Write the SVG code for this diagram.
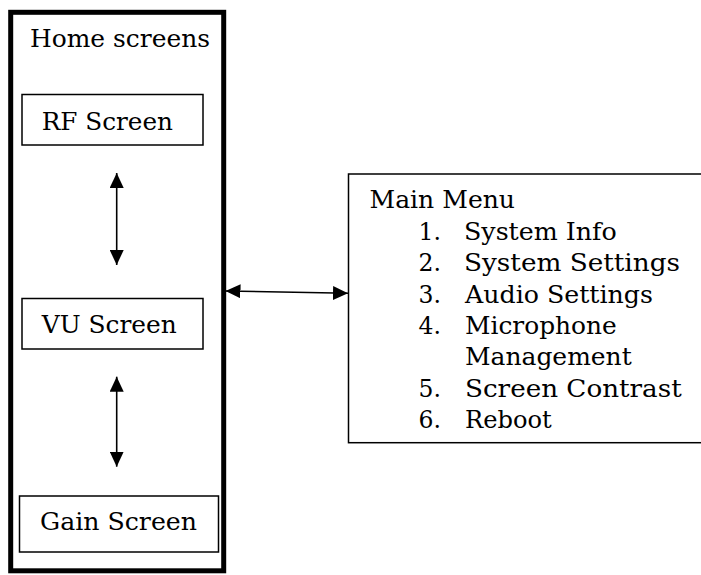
<svg xmlns="http://www.w3.org/2000/svg" width="701" height="575" viewBox="0 0 701 575">
<style>
text{font-family:"DejaVu Serif","Liberation Serif",serif;font-size:23.5px;fill:#000}
.box{fill:#fff;stroke:#000;stroke-width:1.5}
.con{stroke:#000;stroke-width:1.6;fill:none;marker-start:url(#ah);marker-end:url(#ah)}
</style>
<defs>
<marker id="ah" markerUnits="userSpaceOnUse" markerWidth="16" markerHeight="14" refX="15" refY="7" orient="auto-start-reverse" viewBox="0 0 16 14">
<path d="M0,0 L15,7 L0,14 z" fill="#000"/>
</marker>
</defs>
<rect width="701" height="575" fill="#fff"/>
<g id="home">
<rect x="10.7" y="12.3" width="213" height="558.5" fill="none" stroke="#000" stroke-width="5"/>
<text x="30" y="47" textLength="180" lengthAdjust="spacingAndGlyphs">Home screens</text>
</g>
<g id="rf">
<rect class="box" x="22" y="94.5" width="181" height="50.5"/>
<text x="41.7" y="129.5" textLength="131.3" lengthAdjust="spacingAndGlyphs">RF Screen</text>
</g>
<g id="vu">
<rect class="box" x="22" y="298.5" width="181" height="50.5"/>
<text x="41.7" y="333" textLength="135" lengthAdjust="spacingAndGlyphs">VU Screen</text>
</g>
<g id="gain">
<rect class="box" x="19.5" y="496" width="199" height="56"/>
<text x="40" y="530" textLength="157" lengthAdjust="spacingAndGlyphs">Gain Screen</text>
</g>
<g id="menu">
<rect class="box" x="348.5" y="174" width="370" height="268.7"/>
<text x="369.5" y="208" textLength="145.5" lengthAdjust="spacingAndGlyphs">Main Menu</text>
<text x="441" y="240" text-anchor="end">1.</text>
<text x="464" y="240" textLength="152.7" lengthAdjust="spacingAndGlyphs">System Info</text>
<text x="441" y="271.3" text-anchor="end">2.</text>
<text x="464" y="271.3" textLength="216" lengthAdjust="spacingAndGlyphs">System Settings</text>
<text x="441" y="302.6" text-anchor="end">3.</text>
<text x="465" y="302.6" textLength="188" lengthAdjust="spacingAndGlyphs">Audio Settings</text>
<text x="441" y="333.9" text-anchor="end">4.</text>
<text x="465" y="333.9" textLength="151.7" lengthAdjust="spacingAndGlyphs">Microphone</text>
<text x="465" y="365.2" textLength="166.7" lengthAdjust="spacingAndGlyphs">Management</text>
<text x="441" y="396.5" text-anchor="end">5.</text>
<text x="465" y="396.5" textLength="216.7" lengthAdjust="spacingAndGlyphs">Screen Contrast</text>
<text x="441" y="427.8" text-anchor="end">6.</text>
<text x="465" y="427.8" textLength="86.7" lengthAdjust="spacingAndGlyphs">Reboot</text>
</g>
<g id="connectors">
<line class="con" x1="116.7" y1="173" x2="116.7" y2="265"/>
<line class="con" x1="116.7" y1="376.7" x2="116.7" y2="466.7"/>
<line class="con" x1="225.5" y1="291" x2="348" y2="293.3"/>
</g>
</svg>
